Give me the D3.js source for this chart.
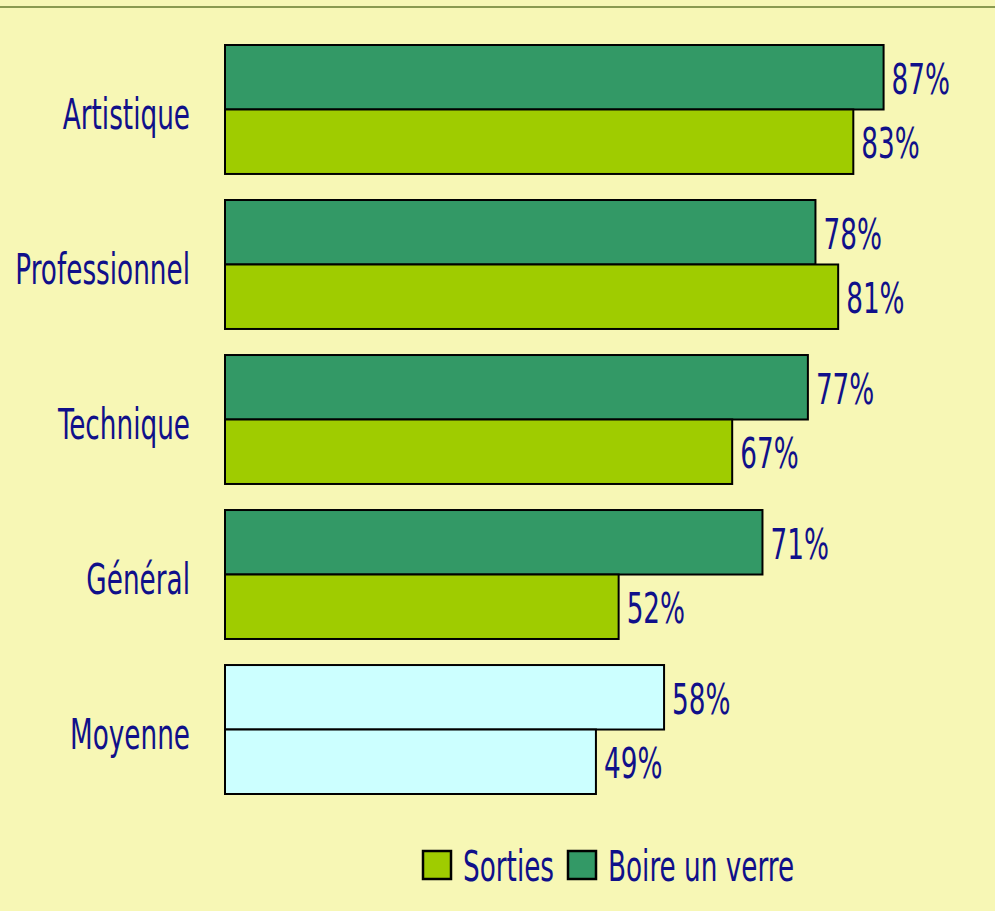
<!DOCTYPE html>
<html>
<head>
<meta charset="utf-8">
<script src="https://cdn.jsdelivr.net/npm/d3@7"></script>
<style>
  html, body { margin: 0; padding: 0; background: #f7f7b5; }
  svg { display: block; }
  text { font-family: "DejaVu Sans Condensed", "DejaVu Sans", sans-serif; fill: #10108a; }
</style>
</head>
<body>
<div id="chart"></div>
<script>
const categories = ['Artistique', 'Professionnel', 'Technique', 'Général', 'Moyenne'];
const boireValues = [87, 78, 77, 71, 58];
const sortiesValues = [83, 81, 67, 52, 49];
const legendLabels = ['Sorties', 'Boire un verre'];

const width = 995;
const height = 911;
const fontSize = 43;
const squeeze = 0.68;

const colors = {
  boire: '#339966',
  sorties: '#9fcc00',
  average: '#ccffff'
};

const svg = d3.select('#chart').append('svg')
  .attr('width', width)
  .attr('height', height);

svg.append('rect')
  .attr('width', width)
  .attr('height', height)
  .attr('fill', '#f7f7b5');

svg.append('line')
  .attr('x1', 0).attr('x2', width)
  .attr('y1', 7).attr('y2', 7)
  .attr('stroke', '#8a9a50')
  .attr('stroke-width', 2);

const xScale = d3.scaleLinear().domain([0, 100]).range([225, 982]);
const yScale = d3.scaleBand()
  .domain(categories)
  .range([45, 794])
  .paddingInner(0.168)
  .paddingOuter(0);
const subScale = d3.scaleBand()
  .domain(['boire', 'sorties'])
  .range([0, yScale.bandwidth()]);

const rows = categories.map((c, i) => ({
  category: c,
  average: c === 'Moyenne',
  bars: [
    { key: 'boire', value: boireValues[i] },
    { key: 'sorties', value: sortiesValues[i] }
  ]
}));

const groups = svg.selectAll('g.row')
  .data(rows)
  .join('g')
  .attr('class', 'row')
  .attr('transform', d => `translate(0,${yScale(d.category)})`);

groups.selectAll('rect')
  .data(d => d.bars.map(b => ({ ...b, average: d.average })))
  .join('rect')
  .attr('x', xScale(0))
  .attr('y', d => subScale(d.key))
  .attr('width', d => xScale(d.value) - xScale(0))
  .attr('height', subScale.bandwidth())
  .attr('fill', d => d.average ? colors.average : colors[d.key])
  .attr('stroke', '#000')
  .attr('stroke-width', 2);

// value labels
groups.selectAll('text.value')
  .data(d => d.bars)
  .join('text')
  .attr('class', 'value')
  .attr('transform', d => `translate(${xScale(d.value) + 8},${subScale(d.key) + subScale.bandwidth() / 2}) scale(${squeeze},1)`)
  .attr('dy', '0.38em')
  .style('font-size', fontSize + 'px')
  .text(d => d.value + '%');

// category labels
groups.append('text')
  .attr('class', 'category')
  .attr('transform', `translate(190,${yScale.bandwidth() / 2 + 3}) scale(${squeeze},1)`)
  .attr('dy', '0.38em')
  .attr('text-anchor', 'end')
  .style('font-size', fontSize + 'px')
  .text(d => d.category);

// legend
const legendItems = [
  { label: legendLabels[0], color: colors.sorties, x: 423 },
  { label: legendLabels[1], color: colors.boire, x: 568 }
];
const legend = svg.append('g').attr('transform', 'translate(0,851)');
const item = legend.selectAll('g')
  .data(legendItems)
  .join('g')
  .attr('transform', d => `translate(${d.x},0)`);
item.append('rect')
  .attr('width', 28)
  .attr('height', 28)
  .attr('fill', d => d.color)
  .attr('stroke', '#000')
  .attr('stroke-width', 2.5);
item.append('text')
  .attr('transform', `translate(40,14) scale(${squeeze},1)`)
  .attr('dy', '0.38em')
  .style('font-size', fontSize + 'px')
  .text(d => d.label);
</script>
</body>
</html>
